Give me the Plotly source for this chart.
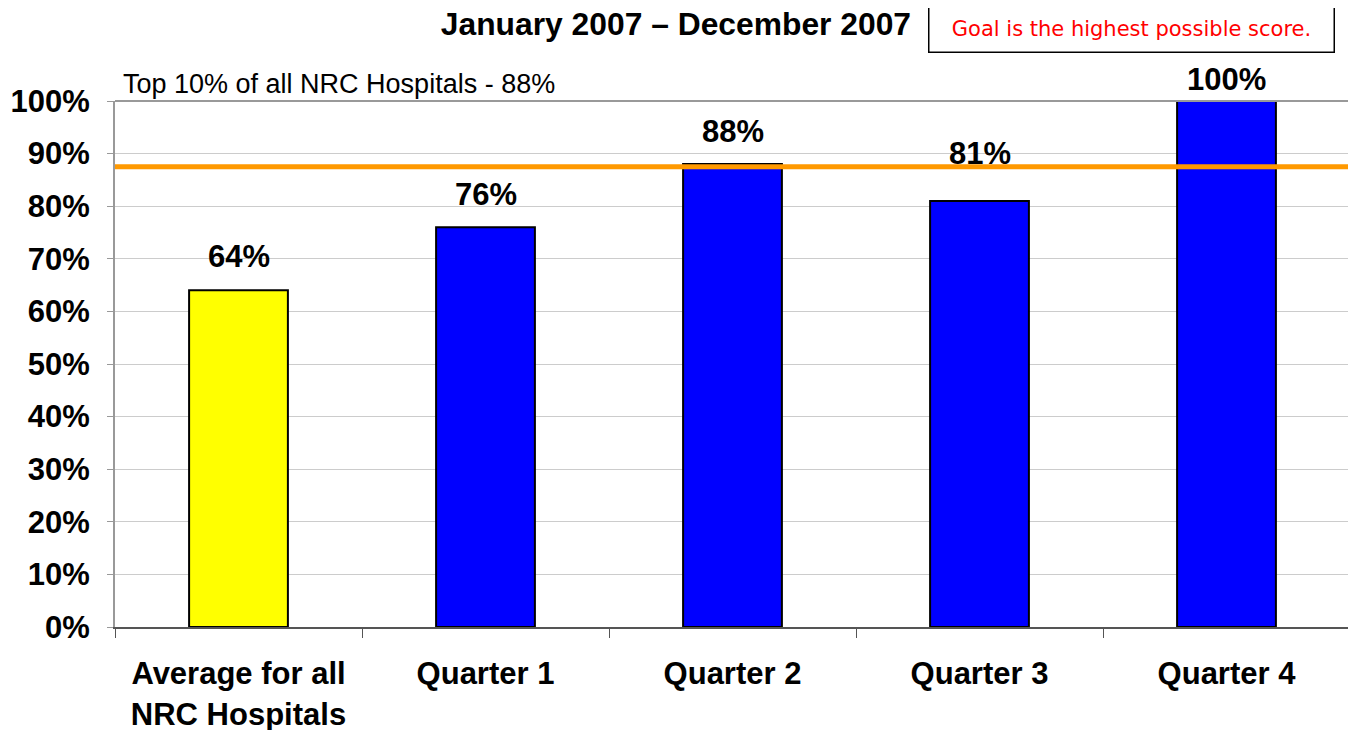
import plotly.graph_objects as go

categories = ["Average for all<br>NRC Hospitals", "Quarter 1", "Quarter 2", "Quarter 3", "Quarter 4"]
values = [64, 76, 88, 81, 100]
colors = ["#FFFF00", "#0000FF", "#0000FF", "#0000FF", "#0000FF"]
label_lift = [14, 13, 13, 28, 2]  # extra pixel lift of each value label above its bar
benchmark = 87.5
benchmark_label = "Top 10% of all NRC Hospitals - 88%"
title_text = "January 2007 \u2013 December 2007"
goal_text = "Goal is the highest possible score."
y_ticks = list(range(0, 101, 10))

# page has an 8px body margin, so the figure is drawn 8px smaller
FIG_W, FIG_H = 1348, 722

fig = go.Figure()
fig.add_trace(go.Bar(
    x=categories, y=values,
    marker=dict(color=colors, line=dict(color="black", width=2)),
    width=0.4,
    hoverinfo="x+y",
))

for c, v, lift in zip(categories, values, label_lift):
    fig.add_annotation(x=c, y=v, xref="x", yref="y", text=f"<b>{v}%</b>", showarrow=False,
                       yanchor="bottom", xanchor="center", yshift=lift,
                       font=dict(family="Liberation Sans", size=31, color="black"))

fig.add_shape(type="line", xref="paper", yref="y", x0=0, x1=1.01, y0=benchmark, y1=benchmark,
              line=dict(color="#FF9900", width=5), layer="above")
fig.add_shape(type="line", xref="paper", yref="paper", x0=0, x1=1, y0=1, y1=1,
              line=dict(color="#999999", width=2), layer="above")

fig.add_annotation(xref="paper", yref="paper", x=0.005, y=1.0, xanchor="left", yanchor="bottom",
                   text=benchmark_label, showarrow=False,
                   font=dict(family="Liberation Sans", size=27, color="black"), yshift=0)

fig.add_annotation(xref="paper", yref="paper", x=0.8227, y=1.1369, xanchor="center", yanchor="middle",
                   text=goal_text, showarrow=False, width=384, height=26,
                   font=dict(family="DejaVu Sans", size=21, color="#FF0000"),
                   bordercolor="black", borderwidth=1.5, borderpad=10, bgcolor="white")

fig.update_layout(
    width=FIG_W, height=FIG_H,
    margin=dict(l=107, r=6, t=93, b=103, autoexpand=False),
    paper_bgcolor="white", plot_bgcolor="white",
    showlegend=False,
    title=dict(text=f"<b>{title_text}</b>", x=0.4955, xref="container", y=0.9778, yref="container",
               xanchor="center", yanchor="middle",
               font=dict(family="Liberation Sans", size=31.8, color="black")),
    bargap=0.6,
    font=dict(family="Liberation Sans", color="black"),
)

fig.update_xaxes(
    automargin=False,
    showline=True, linecolor="#555555", linewidth=2,
    ticks="outside", tickson="boundaries", ticklen=9, tickcolor="#555555", tickwidth=1,
    tickfont=dict(family="Liberation Sans", size=31, color="black"),
    tickprefix="<b>", ticksuffix="</b>", ticklabelstandoff=18,
    mirror=False, showgrid=False,
)
fig.update_yaxes(
    automargin=False,
    range=[0, 100], tickvals=y_ticks, ticktext=[f"<b>{v}%</b>" for v in y_ticks],
    tickfont=dict(family="Liberation Sans", size=31, color="black"),
    ticklabelstandoff=11,
    showgrid=True, gridcolor="#CCCCCC", gridwidth=1,
    showline=True, linecolor="#999999", linewidth=2, mirror=True,
    ticks="outside", ticklen=6, tickcolor="#999999",
    zeroline=False,
)

fig.write_html("out.html")
